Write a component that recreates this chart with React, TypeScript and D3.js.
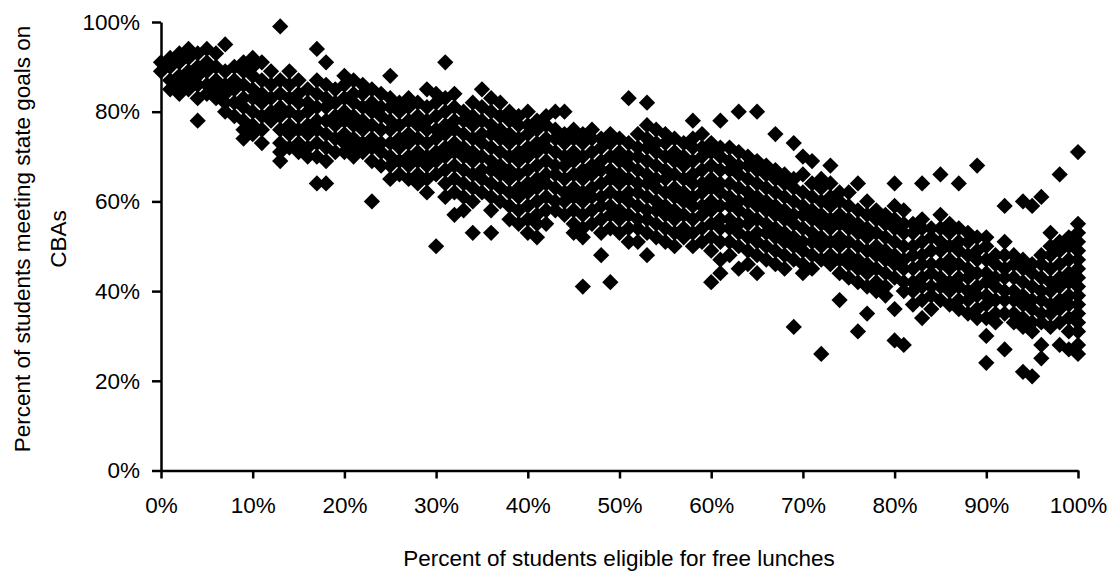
import React, { useEffect, useRef } from 'react';
import * as d3 from 'd3';

// free-lunch percentage for each column of schools
const lunchPct: number[] = d3.range(0, 101);

// percent meeting state goals on CBAs, one list per lunch column above
const cbaPct: number[][] = [
  [91, 89],
  [92, 90, 87, 85],
  [93, 91, 88, 86, 84],
  [94, 92, 89, 87, 85],
  [93, 90, 88, 86, 83, 78],
  [94, 91, 89, 86, 84],
  [93, 90, 87, 85, 83],
  [95, 89, 86, 84, 82, 80],
  [90, 87, 85, 82, 79],
  [91, 89, 86, 83, 81, 78, 76, 74],
  [92, 90, 88, 85, 83, 80, 77, 75],
  [91, 87, 84, 82, 79, 76, 73],
  [89, 86, 83, 80, 78],
  [99, 87, 84, 81, 79, 76, 73, 71, 69],
  [89, 86, 83, 80, 77, 75, 72],
  [87, 84, 82, 79, 76, 73, 71],
  [85, 82, 80, 77, 75, 72, 70],
  [94, 87, 84, 81, 78, 76, 73, 70, 64],
  [91, 86, 83, 81, 78, 75, 72, 69, 64],
  [85, 82, 79, 77, 74, 71],
  [88, 86, 83, 80, 78, 75, 73, 71],
  [87, 84, 82, 79, 77, 74, 72, 70],
  [86, 84, 81, 78, 76, 73, 71],
  [85, 82, 80, 77, 74, 72, 69, 60],
  [84, 81, 79, 76, 73, 71, 68],
  [88, 83, 81, 78, 76, 73, 70, 68, 65],
  [82, 80, 77, 74, 72, 69, 66],
  [83, 81, 78, 75, 73, 70, 68, 65],
  [82, 79, 77, 74, 71, 69, 66, 64],
  [85, 81, 78, 76, 73, 70, 68, 65, 62],
  [84, 82, 79, 76, 74, 71, 69, 66, 50],
  [91, 83, 80, 77, 75, 72, 70, 67, 64, 61],
  [84, 81, 78, 76, 73, 71, 68, 65, 62, 57],
  [80, 78, 75, 72, 70, 67, 64, 61, 58],
  [82, 79, 77, 74, 71, 69, 66, 63, 60, 53],
  [85, 81, 78, 75, 73, 70, 67, 65, 62],
  [83, 80, 77, 75, 72, 69, 67, 64, 61, 58, 53],
  [82, 79, 76, 74, 71, 68, 66, 63, 60],
  [80, 78, 75, 73, 70, 67, 65, 62, 59, 56],
  [79, 77, 74, 71, 69, 66, 63, 61, 58, 55],
  [80, 77, 75, 72, 70, 67, 64, 62, 59, 56, 53],
  [78, 76, 73, 71, 68, 65, 63, 60, 57, 55, 52],
  [79, 77, 74, 72, 69, 66, 64, 61, 58, 55],
  [80, 76, 74, 71, 68, 66, 63, 60, 58],
  [80, 75, 73, 70, 68, 65, 62, 60, 57],
  [76, 74, 71, 69, 66, 63, 61, 58, 55, 53],
  [75, 73, 70, 67, 65, 62, 60, 57, 54, 52, 41],
  [76, 74, 71, 68, 66, 63, 61, 58, 55],
  [74, 72, 69, 67, 64, 61, 59, 56, 53, 48],
  [75, 73, 70, 67, 65, 62, 59, 57, 54, 42],
  [74, 71, 69, 66, 64, 61, 58, 56, 53],
  [83, 73, 70, 68, 65, 62, 60, 57, 54, 51],
  [75, 72, 70, 67, 64, 62, 59, 56, 54, 51],
  [82, 77, 74, 72, 69, 66, 64, 61, 58, 56, 53, 48],
  [76, 73, 71, 68, 65, 63, 60, 58, 55, 52],
  [75, 73, 70, 67, 65, 62, 59, 57, 54, 51],
  [74, 71, 69, 66, 63, 61, 58, 56, 53, 50],
  [73, 70, 68, 65, 62, 60, 57, 54, 52],
  [78, 74, 72, 69, 66, 64, 61, 59, 56, 53, 50],
  [75, 72, 70, 67, 64, 62, 59, 57, 54, 51],
  [73, 71, 68, 65, 63, 60, 58, 55, 52, 49, 42],
  [78, 72, 70, 67, 64, 62, 59, 56, 54, 51, 47, 44],
  [72, 69, 67, 64, 61, 59, 56, 54, 51, 48],
  [80, 71, 68, 66, 63, 60, 58, 55, 53, 50, 45],
  [70, 68, 65, 62, 60, 57, 55, 52, 49, 46],
  [80, 69, 67, 64, 61, 59, 56, 53, 51, 48, 44],
  [68, 66, 63, 60, 58, 55, 53, 50, 47],
  [75, 67, 65, 62, 59, 57, 54, 52, 49, 46],
  [66, 64, 61, 58, 56, 53, 51, 48, 45],
  [73, 65, 63, 60, 57, 55, 52, 50, 47, 32],
  [70, 66, 62, 59, 57, 54, 51, 49, 46, 44],
  [69, 64, 61, 58, 56, 53, 51, 48, 45],
  [65, 63, 60, 57, 55, 52, 50, 47, 26],
  [68, 64, 61, 59, 56, 54, 51, 48, 46],
  [62, 60, 57, 55, 52, 50, 47, 44, 38],
  [62, 59, 56, 54, 51, 48, 46, 43],
  [64, 58, 55, 53, 50, 47, 45, 42, 31],
  [60, 57, 54, 52, 49, 46, 44, 41, 35],
  [58, 56, 53, 50, 48, 45, 42, 40],
  [57, 55, 52, 49, 47, 44, 41, 39],
  [64, 59, 56, 54, 51, 48, 46, 43, 36, 29],
  [58, 55, 53, 50, 47, 45, 42, 40, 28],
  [55, 53, 50, 48, 45, 42, 40, 37],
  [64, 56, 54, 51, 48, 46, 43, 41, 38, 34],
  [54, 52, 49, 46, 44, 41, 39, 36],
  [66, 57, 54, 51, 49, 46, 43, 41, 38],
  [55, 53, 50, 47, 45, 42, 40, 37],
  [64, 54, 51, 49, 46, 43, 41, 38, 36],
  [53, 51, 48, 45, 43, 40, 38, 35],
  [68, 52, 49, 47, 44, 41, 39, 36, 34],
  [52, 50, 47, 44, 42, 39, 37, 34, 30, 24],
  [48, 46, 43, 41, 38, 35, 33],
  [59, 51, 48, 45, 43, 40, 38, 35, 27],
  [48, 46, 43, 40, 38, 35, 33],
  [60, 47, 45, 42, 39, 37, 34, 32, 22],
  [59, 46, 44, 41, 38, 36, 33, 31, 21],
  [61, 48, 46, 43, 40, 38, 35, 33, 28, 25],
  [53, 50, 48, 45, 42, 40, 37, 35, 32],
  [66, 51, 49, 46, 43, 41, 38, 36, 33, 28],
  [52, 50, 47, 44, 42, 39, 37, 34, 31, 27],
  [71, 55, 53, 51, 49, 47, 45, 43, 41, 39, 37, 35, 33, 31, 28, 26],
];

const tickPct = [0, 10, 20, 30, 40, 50, 60, 70, 80, 90, 100];
const yTickPct = [0, 20, 40, 60, 80, 100];

const xTitle = 'Percent of students eligible for free lunches';
const yTitleLines = ['Percent of students meeting state goals on', 'CBAs'];

export default function App() {
  const svgRef = useRef<SVGSVGElement>(null);

  useEffect(() => {
    const svg = d3.select(svgRef.current);
    svg.selectAll('*').remove();

    const font = 'Arial, "Liberation Sans", sans-serif';
    const fs = 22.5;
    const x = d3.scaleLinear().domain([0, 100]).range([161, 1078]);
    const y = d3.scaleLinear().domain([0, 100]).range([470.5, 22]);

    const points: [number, number][] = [];
    lunchPct.forEach((lx, i) => (cbaPct[i] || []).forEach(v => points.push([lx, v])));

    // diamonds = squares turned 45 degrees
    const diamond = d3.symbol(d3.symbolSquare, 132)();
    svg.append('g')
      .selectAll('path')
      .data(points)
      .join('path')
      .attr('d', diamond)
      .attr('fill', '#000')
      .attr('transform', d => `translate(${x(d[0])},${y(d[1])}) rotate(45)`);

    // x axis
    const xAxis = svg.append('g')
      .attr('transform', 'translate(0,470.5)')
      .call(d3.axisBottom(x).tickValues(tickPct).tickSize(8).tickSizeOuter(0)
        .tickFormat(d => `${d}%`));
    xAxis.select('.domain').attr('stroke', '#000').attr('stroke-width', 2.5);
    xAxis.selectAll('.tick line').attr('stroke', '#000').attr('stroke-width', 2.5);
    xAxis.selectAll('.tick text')
      .attr('fill', '#000').attr('font-family', font).attr('font-size', fs)
      .attr('dy', '0.71em').attr('y', 27);

    // y axis
    const yAxis = svg.append('g')
      .attr('transform', 'translate(161,0)')
      .call(d3.axisLeft(y).tickValues(yTickPct).tickSize(9).tickSizeOuter(0).tickPadding(12)
        .tickFormat(d => `${d}%`));
    yAxis.select('.domain').attr('stroke', '#000').attr('stroke-width', 2.5);
    yAxis.selectAll('.tick line').attr('stroke', '#000').attr('stroke-width', 2.5);
    yAxis.selectAll('.tick text')
      .attr('fill', '#000').attr('font-family', font).attr('font-size', fs);

    svg.append('text')
      .attr('x', 619).attr('y', 566)
      .attr('text-anchor', 'middle')
      .attr('font-family', font).attr('font-size', fs)
      .text(xTitle);

    const yBase = [30, 66];
    yTitleLines.forEach((line, i) => {
      svg.append('text')
        .attr('transform', `translate(${yBase[i]},239) rotate(-90)`)
        .attr('text-anchor', 'middle')
        .attr('font-family', font).attr('font-size', fs)
        .text(line);
    });
  }, []);

  return (
    <svg ref={svgRef} width={1112} height={573}
      style={{ position: 'absolute', left: 0, top: 0, background: '#fff' }} />
  );
}
